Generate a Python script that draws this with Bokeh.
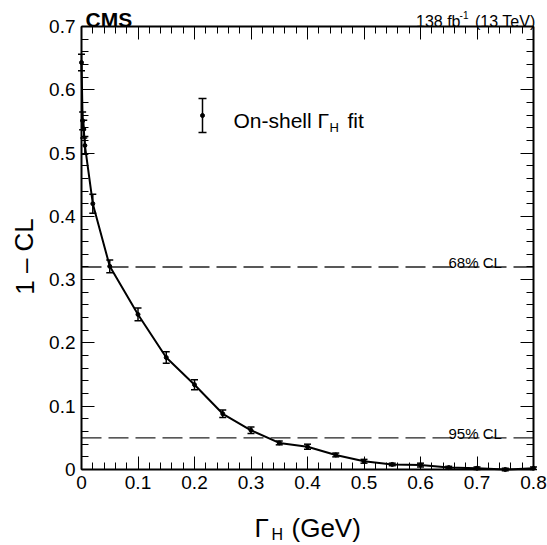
from bokeh.plotting import figure
from bokeh.models import (Range1d, SingleIntervalTicker, LinearAxis, Label,
                          Whisker, TeeHead, ColumnDataSource)
from bokeh.embed import file_html
from bokeh.resources import INLINE

# ---- data ----
gamma_h = [0.0, 0.002, 0.004, 0.006, 0.02, 0.05, 0.10, 0.15, 0.20, 0.25, 0.30,
           0.35, 0.40, 0.45, 0.50, 0.55, 0.60, 0.65, 0.70, 0.75, 0.80]
one_minus_cl = [0.643, 0.551, 0.538, 0.512, 0.420, 0.321, 0.245, 0.177, 0.134,
                0.088, 0.062, 0.042, 0.036, 0.023, 0.013, 0.008, 0.007, 0.003,
                0.002, 0.0, 0.002]
err = [0.013, 0.014, 0.014, 0.014, 0.015, 0.010, 0.010, 0.009, 0.008, 0.006,
       0.005, 0.003, 0.004, 0.003, 0.003, 0.002, 0.003, 0.002, 0.002, 0.002, 0.002]
cl_levels = [0.32, 0.05]
cl_labels = ["68% CL", "95% CL"]
x_bounds = (0.0, 0.8)
y_bounds = (0.0, 0.7)
tick_interval = 0.1

FONT = "Liberation Sans"
EPS = 1e-9

# ---- layout (page pixels) ----
W, H = 547, 545
FL, FR, FT, FB = 81, 533, 26, 469     # inner ROOT-style frame box
XS = (FR - FL) / (x_bounds[1] - x_bounds[0])
YS = (FB - FT) / (y_bounds[1] - y_bounds[0])

p = figure(width=W, height=H, output_backend="svg", toolbar_location=None,
           x_range=Range1d(x_bounds[0] - FL / XS, x_bounds[0] + (W - FL) / XS),
           y_range=Range1d(y_bounds[0] - (H - FB) / YS, y_bounds[0] + FB / YS),
           min_border=0, min_border_left=0, min_border_right=0,
           min_border_top=0, min_border_bottom=0,
           background_fill_color="white", border_fill_color="white")
p.grid.visible = False
p.outline_line_color = None


def style_axis(ax, show_labels, loc, bounds):
    ax.fixed_location = loc
    ax.bounds = (bounds[0], bounds[1] + EPS)
    ax.ticker = SingleIntervalTicker(interval=tick_interval, num_minor_ticks=5)
    ax.axis_line_width = 2
    ax.axis_line_color = "black"
    ax.major_tick_in = 13
    ax.major_tick_out = 0
    ax.minor_tick_in = 7
    ax.minor_tick_out = 0
    ax.major_tick_line_width = 1
    ax.minor_tick_line_width = 1
    ax.major_tick_line_color = "black"
    ax.minor_tick_line_color = "black"
    ax.major_label_text_font = FONT
    ax.major_label_text_font_size = "19px"
    ax.major_label_standoff = 6
    ax.major_label_overrides = {0: "0"}
    if show_labels:
        ax.major_label_text_color = "black"
    else:
        ax.major_label_text_color = None


style_axis(p.xaxis[0], True, y_bounds[0], x_bounds)
style_axis(p.yaxis[0], True, x_bounds[0], y_bounds)
ax_top = LinearAxis()
ax_right = LinearAxis()
style_axis(ax_top, False, y_bounds[1], x_bounds)
style_axis(ax_right, False, x_bounds[1], y_bounds)
p.add_layout(ax_top, "above")
p.add_layout(ax_right, "right")

# CL lines
for lvl in cl_levels:
    p.segment(x0=x_bounds[0], x1=x_bounds[1], y0=lvl, y1=lvl, line_color="#222222",
              line_width=1.3, line_dash="20 7")


def lab(text, px, py, size, align="left", baseline="alphabetic", bold=False, angle=0):
    p.add_layout(Label(x=px, y=H - py, x_units="screen", y_units="screen",
                       text=text, text_font=FONT, text_font_size=size,
                       text_align=align, text_baseline=baseline, angle=angle,
                       text_font_style="bold" if bold else "normal",
                       text_color="black"))


for lvl, txt in zip(cl_levels, cl_labels):
    lab(txt, 448, FB - lvl * YS - 4, "15px")

# data
src = ColumnDataSource(dict(x=gamma_h, y=one_minus_cl,
                            lo=[v - e for v, e in zip(one_minus_cl, err)],
                            hi=[v + e for v, e in zip(one_minus_cl, err)]))
p.line("x", "y", source=src, line_color="black", line_width=2)
p.add_layout(Whisker(source=src, base="x", lower="lo", upper="hi", dimension="height",
                     line_color="black", line_width=1.5,
                     lower_head=TeeHead(size=7, line_color="black", line_width=1.5),
                     upper_head=TeeHead(size=7, line_color="black", line_width=1.5)))
p.scatter("x", "y", source=src, size=4, color="black")

# legend sample (error bar marker), placed in page pixels
leg_src = ColumnDataSource(dict(x=[(202 - FL) / XS], y=[(FB - 115) / YS],
                                lo=[(FB - 132) / YS], hi=[(FB - 98) / YS]))
p.add_layout(Whisker(source=leg_src, base="x", lower="lo", upper="hi", dimension="height",
                     line_color="black", line_width=1.5,
                     lower_head=TeeHead(size=8, line_color="black", line_width=1.5),
                     upper_head=TeeHead(size=8, line_color="black", line_width=1.5)))
p.scatter("x", "y", source=leg_src, size=4, color="black")

# legend text
lab("On-shell \u0393", 233, 120, "21px")
lab("H", 329, 127, "13px")
lab("fit", 347, 120, "21px")

# header
lab("CMS", 85, 19, "21px", bold=True)
lab("(13 TeV)", 535, 21, "16px", align="right")
lab("-1", 468, 14, "10px", align="right")
lab("138 fb", 460, 21, "16px", align="right")

# axis titles
lab("\u0393", 254, 527, "26px")
lab("H", 271, 534, "16px")
lab("(GeV)", 291, 527, "26px")
lab("1 \u2013 CL", 24, 256, "26px", align="center", baseline="middle", angle=1.5708)

open("out.html", "w").write(file_html(p, INLINE))
